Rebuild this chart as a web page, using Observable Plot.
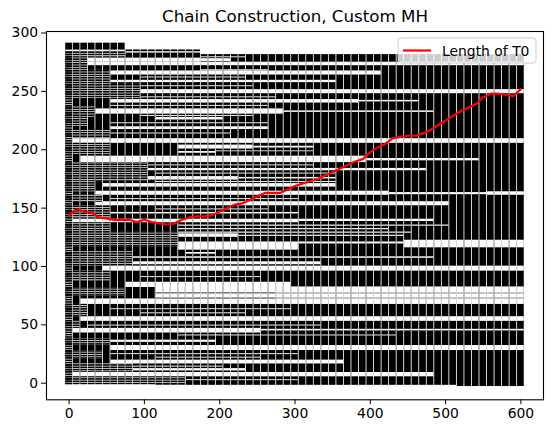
<!DOCTYPE html>
<html><head><meta charset="utf-8">
<script src="https://cdn.jsdelivr.net/npm/d3@7"></script>
<script src="https://cdn.jsdelivr.net/npm/@observablehq/plot@0.6"></script>
<style>
html,body{margin:0;padding:0;background:#fff;}
#chart{width:552px;height:433px;}
</style>
</head><body><div id="chart"></div>
<script>
// ---------- data ----------
const title = "Chain Construction, Custom MH";
const legendLabel = "Length of T0";
const steps = [0,10,20,30,40,50,60,70,80,90,100,110,120,130,140,150,160,170,180,190,200,
  210,220,230,240,250,260,270,280,290,300,310,320,330,340,350,360,370,380,390,400,
  410,420,430,440,450,460,470,480,490,500,510,520,530,540,550,560,570,580,590,600];
const t0Length = [144,149,147,146,142,141,140,140,140,138,140,138,137,136,137,140,142,143,143,144,147,
  150,153,154,157,160,163,163,163,166,169,171,173,175,178,181,184,187,190,192,198,
  202,205,210,211,212,212,214,217,221,225,229,233,236,239,245,248,248,247,246,252];
const xTicks = [0,100,200,300,400,500,600];
const yTicks = [0,50,100,150,200,250,300];
// chain extent per step range: [fromStep, toStep, value]
const chainTop = [[0,70,291.3],[80,170,285.5],[180,600,281.5]];
const chainBottom = [[0,110,-1.2],[120,510,-1.8],[520,600,-2.8]];
// empty stretches of the chain: [yLow, yHigh, fromStep, toStep]
const gaps = [
  [283.8,285.4,0,70],[282.8,284,80,170],
  [275,278.5,30,170],[275.5,278,180,210],[278.8,279.6,180,230],[272,275,30,600],
  [267.5,268.5,180,260],[264,267.5,50,410],[261.5,262.3,100,230],[257.5,259.5,60,350],
  [254,254.8,100,240],[248,251.5,90,600],[244.5,245.3,100,270],[240,243,60,385],[241,242.3,390,460],
  [237.2,238,60,260],[230.5,235,40,285],[232,233.3,290,480],[228.6,229.4,100,240],[225.5,227.7,120,200],
  [222.3,223.1,60,260],[217.3,219.7,60,260],[213.5,214.3,60,210],[205.5,209.5,10,600],
  [200.6,204,150,240],[201.5,203,250,325],[197,198.5,150,190],[198.3,199,200,325],
  [189,194.5,20,395],[190.5,192.5,400,540],[186.2,187,110,320],[182,184,110,475],
  [179.2,180,120,350],[174,177,80,220],[175,176.3,230,350],[172,172.8,120,350],[168,171,50,350],
  [161,164.5,40,420],[161.5,163.3,430,550],[161,164,560,600],[157.3,158.1,60,300],
  [152,155.5,40,500],[145,146.3,60,300],[148.5,149.3,120,260],
  [137.5,140.5,10,300],[138.5,140.5,310,480],
  [134.5,135.5,150,500],[131.5,132.5,150,420],[128.5,129.5,150,450],
  [125,128,150,220],[125.8,126.8,230,440],
  [114,121,150,300],[119.3,121,310,440],[116,122.5,450,600],
  [110.5,112,160,190],[107,108.3,90,480],[101.5,104,90,330],
  [96,100.3,50,600],[90.5,91.3,100,250],[82,86.5,80,290],
  [77.3,82.5,120,600],[72.9,76.6,120,600],[76.6,77.3,280,600],[72.2,72.9,280,600],
  [67.5,72.2,20,600],[63,63.8,60,290],[59.5,60.3,100,230],[53,57,20,600],[49,49.8,30,330],
  [43,47,10,255],[44.8,46.2,260,600],[40.5,41.3,150,430],[35,36.9,60,190],[28,32.3,60,600],
  [24.5,25.3,60,300],[21.5,22.3,120,250],
  [16.5,19.8,60,360],[13.8,14.6,90,200],[10.5,12.5,90,230],[5.5,9.2,10,480],[2.2,3,160,300]
];
// stretches still made of short initial links: [yLow, yHigh, lastStep]
const stripeBands = [
  [-1.5,283.8,0],[279.5,283.8,70],[268,279.5,20],[256,268,50],[244,256,90],
  [228,237,30],[220,228,20],[210,217.3,50],[196,205.5,50],[173,189,100],
  [164,173,30],[155,161,40],[141.5,152,50],[130,137.5,50],[117,130,140],
  [100.3,112.5,80],[87.4,96,50],[74.5,82,70],[65,67.5,20],[57,65,20],
  [47,53,10],[32.3,38,50],[21,28,40],[9.2,16.5,80],[-1.5,5.5,150]
];
const linkSpacing = 2;     // initial link pitch
const linkFill = 1.4;      // drawn part of each initial link
const linkOrigin = -1.5;

// ---------- build marks data ----------
const halfWidth = 4.45;
function lookup(ranges, x){ for (const [a,b,v] of ranges) if (x>=a && x<=b) return v; return ranges[ranges.length-1][2]; }
const colRects = [], whiteRects = [], linkRects = [];
for (const x of steps) {
  const top = lookup(chainTop, x), bot = lookup(chainBottom, x);
  const x1 = x - halfWidth, x2 = x + halfWidth;
  colRects.push({x1, x2, y1: bot, y2: top});
  for (const [g0,g1,f,t] of gaps) {
    if (x >= f && x <= t) {
      const lo = Math.max(g0, bot), hi = Math.min(g1, top);
      if (hi > lo) whiteRects.push({x1, x2, y1: lo, y2: hi});
    }
  }
  for (const [b0,b1,last] of stripeBands) {
    if (x <= last) {
      const lo = Math.max(b0, bot), hi = Math.min(b1, top);
      if (hi <= lo) continue;
      whiteRects.push({x1, x2, y1: lo, y2: hi});
      const k0 = Math.floor((lo - linkOrigin) / linkSpacing);
      const k1 = Math.ceil((hi - linkOrigin) / linkSpacing);
      for (let k = k0; k <= k1; k++) {
        const s = linkOrigin + k * linkSpacing;
        const a = Math.max(s, lo), b = Math.min(s + linkFill, hi);
        if (b > a) linkRects.push({x1, x2, y1: a, y2: b});
      }
    }
  }
}
const t0Data = steps.map((x, i) => ({x, y: t0Length[i]}));

const font = "'DejaVu Sans', sans-serif";
const plot = Plot.plot({
  width: 552, height: 433,
  marginLeft: 46, marginRight: 9, marginTop: 31, marginBottom: 33.7,
  x: {domain: [-30, 630]},
  y: {domain: [-14.2, 301.3]},
  style: {fontFamily: font, fontSize: "13.9px", color: "black", background: "white", overflow: "visible"},
  marks: [
    Plot.rect(colRects, {x1: "x1", x2: "x2", y1: "y1", y2: "y2", fill: "black"}),
    Plot.rect(whiteRects, {x1: "x1", x2: "x2", y1: "y1", y2: "y2", fill: "white"}),
    Plot.rect(linkRects, {x1: "x1", x2: "x2", y1: "y1", y2: "y2", fill: "black"}),
    Plot.line(t0Data, {x: "x", y: "y", stroke: "#ff0000", strokeWidth: 2.2}),
    Plot.frame({stroke: "black", strokeWidth: 1.1}),
    Plot.axisX({ticks: xTicks, tickSize: 4.9, tickPadding: 3.5, label: null, fontSize: 13.9}),
    Plot.axisY({ticks: yTicks, tickSize: 4.9, tickPadding: 3.5, label: null, fontSize: 13.9}),
    Plot.text([title], {frameAnchor: "top", dy: -10, lineAnchor: "bottom", fontSize: 16.7, fill: "black"})
  ]
});
document.getElementById("chart").appendChild(plot);

// legend (upper right, matplotlib style)
const NS = "http://www.w3.org/2000/svg";
function el(name, attrs, parent) {
  const e = document.createElementNS(NS, name);
  for (const k in attrs) e.setAttribute(k, attrs[k]);
  parent.appendChild(e);
  return e;
}
const lg = el("g", {"font-family": font, "font-size": 13.9, "text-anchor": "start"}, plot);
el("rect", {x: 398, y: 38, width: 138, height: 25, rx: 2.5, fill: "white", "fill-opacity": 0.8,
  stroke: "#cccccc", "stroke-width": 1}, lg);
el("path", {d: "M403,50.5H431", stroke: "#ff0000", "stroke-width": 2.2, fill: "none"}, lg);
const tx = el("text", {x: 442, y: 55.5, fill: "black", "text-anchor": "start"}, lg);
tx.textContent = legendLabel;
</script>
</body></html>
